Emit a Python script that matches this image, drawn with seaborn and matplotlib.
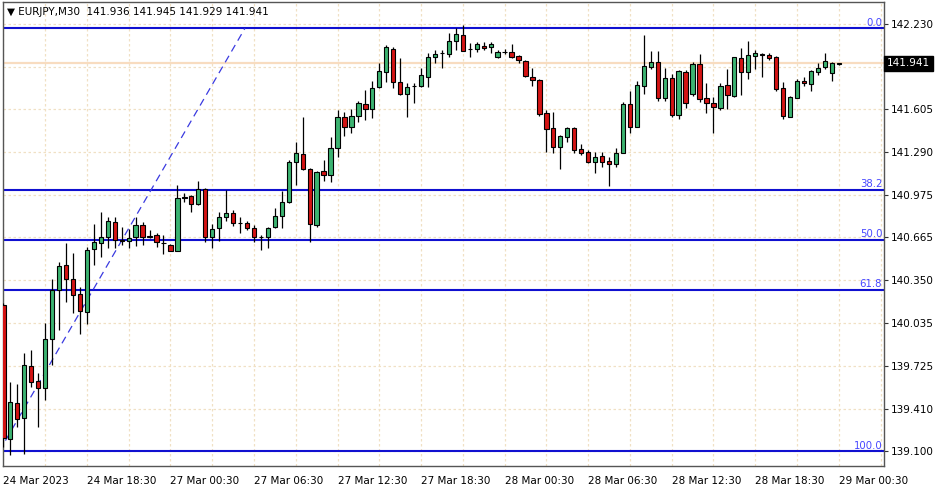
import numpy as np
import pandas as pd
import matplotlib
matplotlib.use("Agg")
import matplotlib.pyplot as plt
import matplotlib.transforms as mtransforms
from matplotlib.ticker import FixedLocator
import seaborn as sns

sns.set_theme(style="white")
plt.rcParams['font.family'] = ['DejaVu Sans']

# ---------------- data (EURJPY, M30) ----------------
opens = [
    140.170, 139.188, 139.452, 139.342, 139.723, 139.613, 139.562, 139.921, 140.280, 140.463,
    140.361, 140.251, 140.119, 140.581, 140.625, 140.669, 140.779, 140.647, 140.639, 140.669,
    140.757, 140.672, 140.683, 140.625, 140.610, 140.566, 140.962, 140.969, 140.910, 141.020,
    140.669, 140.735, 140.815, 140.844, 140.771, 140.771, 140.735, 140.669, 140.669, 140.742,
    140.822, 140.925, 141.218, 141.277, 141.167, 140.757, 141.152, 141.123, 141.321, 141.548,
    141.475, 141.556, 141.644, 141.607, 141.768, 141.878, 142.047, 141.805, 141.717, 141.776,
    141.776, 141.842, 141.988, 142.017, 142.010, 142.105, 142.149, 142.047, 142.047, 142.069,
    142.061, 141.988, 142.025, 142.025, 141.995, 141.959, 141.842, 141.820, 141.578, 141.468,
    141.328, 141.402, 141.468, 141.314, 141.292, 141.218, 141.262, 141.226, 141.204, 141.284,
    141.644, 141.475, 141.776, 141.915, 141.951, 141.688, 141.834, 141.563, 141.878, 141.717,
    141.937, 141.688, 141.651, 141.614, 141.783, 141.702, 141.981, 141.878, 141.995, 142.010,
    142.003, 141.988, 141.761, 141.548, 141.688, 141.812, 141.790, 141.878, 141.915, 141.871,
    141.936,
]
highs = [
    140.185, 139.606, 139.591, 139.818, 139.840, 139.672, 140.038, 140.361, 140.485, 140.625,
    140.551, 140.302, 140.595, 140.764, 140.852, 140.815, 140.815, 140.742, 140.727, 140.815,
    140.779, 140.720, 140.698, 140.683, 140.617, 141.050, 140.991, 140.976, 141.079, 141.028,
    140.764, 140.852, 141.013, 140.866, 140.815, 140.786, 140.757, 140.683, 140.742, 140.881,
    141.006, 141.233, 141.365, 141.548, 141.174, 141.152, 141.233, 141.402, 141.600, 141.585,
    141.607, 141.666, 141.746, 141.812, 141.944, 142.076, 142.061, 141.981, 141.798, 141.798,
    141.907, 142.017, 142.039, 142.039, 142.164, 142.201, 142.223, 142.091, 142.098, 142.098,
    142.098, 142.039, 142.047, 142.083, 142.003, 141.966, 141.907, 141.827, 141.600, 141.585,
    141.416, 141.475, 141.475, 141.350, 141.306, 141.292, 141.292, 141.255, 141.321, 141.658,
    141.739, 141.812, 142.149, 142.032, 142.032, 141.907, 141.864, 141.893, 141.893, 141.951,
    142.010, 141.798, 141.695, 141.798, 141.900, 141.988, 142.054, 142.105, 142.039, 142.017,
    142.017, 141.995, 141.805, 141.702, 141.827, 141.842, 141.893, 141.944, 142.017, 141.951,
    141.945,
]
lows = [
    139.129, 139.070, 139.276, 139.078, 139.569, 139.276, 139.474, 139.730, 139.987, 140.192,
    140.111, 139.957, 140.031, 140.463, 140.522, 140.588, 140.588, 140.610, 140.588, 140.603,
    140.610, 140.661, 140.595, 140.544, 140.566, 140.566, 140.925, 140.852, 140.903, 140.632,
    140.588, 140.639, 140.786, 140.749, 140.698, 140.720, 140.632, 140.573, 140.588, 140.735,
    140.735, 140.918, 141.050, 141.160, 140.632, 140.742, 141.079, 141.072, 141.255, 141.409,
    141.431, 141.512, 141.526, 141.541, 141.761, 141.805, 141.761, 141.710, 141.548, 141.651,
    141.768, 141.768, 141.944, 141.907, 141.988, 142.039, 142.032, 141.988, 142.025, 142.039,
    142.017, 141.981, 142.010, 141.981, 141.944, 141.842, 141.776, 141.556, 141.292, 141.284,
    141.167, 141.365, 141.284, 141.270, 141.211, 141.138, 141.182, 141.042, 141.182, 141.284,
    141.431, 141.475, 141.717, 141.900, 141.666, 141.666, 141.548, 141.534, 141.614, 141.702,
    141.658, 141.578, 141.431, 141.600, 141.607, 141.695, 141.710, 141.827, 141.900, 141.842,
    141.966, 141.739, 141.534, 141.548, 141.688, 141.776, 141.739, 141.856, 141.900, 141.812,
    141.929,
]
closes = [
    139.195, 139.459, 139.334, 139.730, 139.606, 139.562, 139.921, 140.280, 140.456, 140.361,
    140.243, 140.126, 140.573, 140.632, 140.669, 140.786, 140.647, 140.639, 140.661, 140.757,
    140.669, 140.676, 140.632, 140.621, 140.566, 140.954, 140.958, 140.910, 141.020, 140.669,
    140.727, 140.815, 140.844, 140.771, 140.768, 140.735, 140.669, 140.665, 140.735, 140.822,
    140.925, 141.218, 141.284, 141.167, 140.764, 141.145, 141.123, 141.321, 141.548, 141.475,
    141.556, 141.651, 141.607, 141.761, 141.885, 142.061, 141.805, 141.717, 141.768, 141.772,
    141.856, 141.988, 142.010, 142.014, 142.105, 142.157, 142.032, 142.043, 142.083, 142.054,
    142.083, 142.025, 142.028, 141.988, 141.966, 141.849, 141.820, 141.570, 141.460, 141.328,
    141.409, 141.468, 141.306, 141.284, 141.218, 141.255, 141.218, 141.204, 141.284, 141.644,
    141.475, 141.783, 141.922, 141.951, 141.688, 141.834, 141.563, 141.885, 141.651, 141.937,
    141.680, 141.651, 141.622, 141.776, 141.710, 141.988, 141.878, 142.003, 142.017, 142.006,
    141.981, 141.754, 141.556, 141.695, 141.812, 141.798, 141.885, 141.907, 141.959, 141.944,
    141.941,
]

time_labels = ["24 Mar 2023", "24 Mar 18:30", "27 Mar 00:30", "27 Mar 06:30",
               "27 Mar 12:30", "27 Mar 18:30", "28 Mar 00:30", "28 Mar 06:30",
               "28 Mar 12:30", "28 Mar 18:30", "29 Mar 00:30"]
price_ticks = [142.230, 141.915, 141.605, 141.290, 140.975, 140.665,
               140.350, 140.035, 139.725, 139.410, 139.100]
# the 141.915 label is covered by the last-price box in the reference
price_tick_labels = ["142.230", "", "141.605", "141.290", "140.975", "140.665",
                     "140.350", "140.035", "139.725", "139.410", "139.100"]

fib_low = 139.097
fib_high = 142.198
fib_levels = [0.0, 38.2, 50.0, 61.8, 100.0]
fib_level_labels = ["0.0", "38.2", "50.0", "61.8", "100.0"]
fib_anchor_bars = [-0.6, 34.7]   # bar positions of the fibo trend line ends

symbol = "EURJPY,M30"
header_ohlc = "141.936 141.945 141.929 141.941"
last_price = 141.941

df = pd.DataFrame({"open": opens, "high": highs, "low": lows, "close": closes})
df["bar"] = np.arange(len(df))

# ---------------- figure ----------------
fig = plt.figure(figsize=(9.4, 4.87), dpi=100)
W, H = 940, 487
ax = fig.add_axes([3 / W, 1 - 466 / H, (884 - 3) / W, (466 - 2) / H])
ax.set_facecolor("white")

GREEN = "#3cb371"
RED = "#d41414"
FIB = "#1010d0"
GRID = "#f0e0c4"

ax.set_xlim(-0.05, 126.5)
ax.set_ylim(138.990, 142.391)
ax.xaxis.set_major_locator(FixedLocator(np.arange(0, 121, 12)))
ax.xaxis.set_minor_locator(FixedLocator(np.arange(6, 127, 12)))
ax.set_xticklabels(time_labels)
ax.yaxis.set_major_locator(FixedLocator(price_ticks))
ax.set_yticklabels(price_tick_labels)
ax.grid(True, which="both", axis="x", color=GRID, linestyle=(0, (2, 2)), linewidth=0.9)
ax.grid(True, which="major", axis="y", color=GRID, linestyle=(0, (2, 2)), linewidth=0.9)
ax.set_axisbelow(True)

# current price line
ax.axhline(last_price, color="#f8dcc0", linewidth=1.6, zorder=1)

# fibonacci levels
blend = mtransforms.blended_transform_factory(ax.transAxes, ax.transData)
rng = fib_high - fib_low
fib_prices = [fib_high - lv / 100.0 * rng for lv in fib_levels]
for fp, lab in zip(fib_prices, fib_level_labels):
    ax.axhline(fp, color=FIB, linewidth=1.5, zorder=2)
    ax.text(0.998, fp + 0.006, lab, transform=blend,
            ha="right", va="bottom", color="#4646ff", fontsize=7.3, zorder=6)
ax.plot(fib_anchor_bars, [fib_low, fib_high], color="#3a3ae0", linewidth=0.9,
        linestyle=(0, (6, 4)), zorder=2)

# candles
up = df["close"] >= df["open"]
ax.vlines(df["bar"], df["low"], df["high"], color="black", linewidth=0.9, zorder=3)
body_bottom = np.minimum(df["open"], df["close"])
body_h = np.abs(df["close"] - df["open"])
colors = np.where(up, GREEN, RED)
ax.bar(df["bar"], body_h, bottom=body_bottom, width=0.62, color=colors,
       edgecolor="black", linewidth=0.8, zorder=4)

# axes styling
for s in ax.spines.values():
    s.set_color("#555555")
    s.set_linewidth(1.0)
ax.yaxis.tick_right()
ax.tick_params(axis="y", which="major", direction="out", length=3, width=0.8,
               color="#333333", labelsize=7.5, pad=2, labelcolor="black")
ax.tick_params(axis="x", which="major", direction="out", length=4, width=0.8,
               color="#333333", labelsize=7.5, pad=3, labelcolor="black")
ax.tick_params(axis="x", which="minor", length=0)
for lbl in ax.get_xticklabels():
    lbl.set_ha("left")

# header
ax.text(0.004, 0.978, "\u25bc " + symbol + "  " + header_ohlc,
        transform=ax.transAxes, ha="left", va="center", fontsize=7.5, color="black", zorder=7)

# last price box on the price scale
ax.text(1.0035, last_price, "141.941", transform=blend,
        ha="left", va="center", fontsize=7.5, color="white", clip_on=False, zorder=10,
        bbox=dict(facecolor="black", edgecolor="black", boxstyle="square,pad=0.25"))

fig.savefig("out.png", dpi=100, facecolor="white")
